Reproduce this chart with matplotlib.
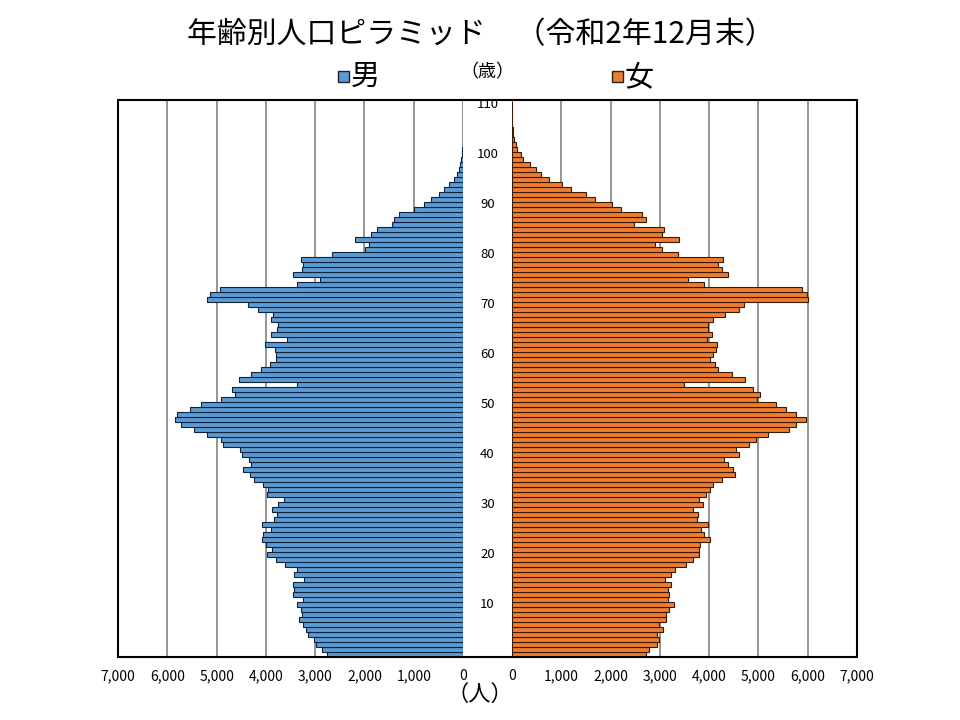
import numpy as np
import matplotlib
matplotlib.use("Agg")
import matplotlib.pyplot as plt
from matplotlib.patches import Rectangle
from matplotlib.transforms import blended_transform_factory

plt.rcParams['font.family'] = ['Noto Sans CJK JP', 'DejaVu Sans']

# 年齢 0〜110歳
ages = np.arange(0, 111)

# 男（人）
male = [2757, 2858, 2980, 3027, 3142, 3182, 3243, 3318, 3264, 3284,
        3365, 3243, 3446, 3432, 3453, 3216, 3432, 3365, 3615, 3791,
        3973, 3872, 4007, 4074, 4054, 3905, 4088, 3838, 3770, 3872,
        3750, 3635, 3973, 3953, 4068, 4243, 4324, 4466, 4311, 4345,
        4480, 4534, 4865, 4905, 5189, 5459, 5716, 5845, 5797, 5547,
        5311, 4919, 4628, 4696, 3378, 4547, 4297, 4095, 3919, 3804,
        3804, 3824, 4020, 3568, 3905, 3770, 3750, 3892, 3865, 4162,
        4358, 5189, 5135, 4939, 3378, 2905, 3446, 3264, 3243, 3277,
        2655, 1993, 1912, 2196, 1865, 1743, 1439, 1405, 1304, 986,
        784, 649, 493, 392, 291, 189, 122, 88, 54, 34,
        20, 12, 8, 5, 3, 2, 1, 1, 0, 0, 1]

# 女（人）
female = [2723, 2770, 2946, 2973, 2939, 3061, 2980, 3115, 3115, 3176,
          3284, 3162, 3176, 3162, 3216, 3108, 3216, 3311, 3534, 3669,
          3791, 3804, 3818, 4027, 3905, 3838, 3973, 3757, 3770, 3682,
          3872, 3804, 3939, 4027, 4088, 4257, 4534, 4480, 4392, 4297,
          4601, 4547, 4804, 4953, 5189, 5615, 5764, 5966, 5764, 5561,
          5358, 4966, 5041, 4885, 3486, 4730, 4466, 4176, 4128, 4020,
          4088, 4142, 4162, 3953, 4061, 3986, 3986, 4088, 4331, 4615,
          4716, 6014, 5980, 5885, 3905, 3568, 4378, 4257, 4176, 4277,
          3378, 3047, 2892, 3385, 3047, 3081, 2466, 2723, 2642, 2216,
          2034, 1676, 1507, 1189, 1020, 750, 581, 493, 358, 223,
          176, 108, 88, 45, 28, 20, 10, 5, 3, 1, 1]

age_ticks = np.arange(10, 111, 10)
x_ticks = np.arange(0, 7001, 1000)

W, H = 960, 720
fig = plt.figure(figsize=(9.6, 7.2), dpi=100)

def box(x0, y0, x1, y1):
    # ピクセル座標 -> figure座標
    return [x0 / W, 1 - y1 / H, (x1 - x0) / W, (y1 - y0) / H]

ax_m = fig.add_axes(box(118, 100, 463, 657))
ax_f = fig.add_axes(box(512, 100, 857, 657))

blue = '#5b9bd5'
orange = '#ed7d31'

ax_m.barh(ages, male, height=0.85, color=blue, edgecolor='#10213a', linewidth=0.8, zorder=3)
ax_f.barh(ages, female, height=0.85, color=orange, edgecolor='#3a1a05', linewidth=0.8, zorder=3)

for ax in (ax_m, ax_f):
    ax.set_ylim(-0.5, 110.9)
    ax.set_yticks([])
    ax.set_xticks(x_ticks)
    ax.set_xticklabels([f'{v:,}' for v in x_ticks], fontsize=10)
    ax.tick_params(axis='x', length=0, pad=9)
    ax.grid(axis='x', color='#8c8c8c', linewidth=1.3, zorder=0)
    for s in ax.spines.values():
        s.set_visible(False)

ax_m.set_xlim(7000, 0)
ax_f.set_xlim(0, 7000)
ax_f.axvline(0, color='#404040', linewidth=1.2, zorder=2)

# 外枠
fig.patches.append(Rectangle((118 / W, 1 - 657 / H), (857 - 118) / W, 557 / H,
                             transform=fig.transFigure, fill=False,
                             edgecolor='black', linewidth=1.5, zorder=5))

# 年齢ラベル（中央）
tr = blended_transform_factory(fig.transFigure, ax_m.transData)
for a in age_ticks:
    fig.text(487.5 / W, a, str(a), transform=tr, ha='center', va='center', fontsize=9.5)

fig.text(481 / W, 1 - 35 / H, '年齢別人口ピラミッド　（令和2年12月末）',
         ha='center', va='center', fontsize=21.5)

# 凡例
for cx, col, lab in [(343, blue, '男'), (617, orange, '女')]:
    fig.patches.append(Rectangle(((cx - 5.5) / W, 1 - 82 / H), 11 / W, 11 / H,
                                 transform=fig.transFigure, facecolor=col,
                                 edgecolor='#222222', linewidth=1))
    fig.text((cx + 8) / W, 1 - 77 / H, lab, ha='left', va='center', fontsize=21)

fig.text(487 / W, 1 - 72 / H, '（歳）', ha='center', va='center', fontsize=13)
fig.text(480 / W, 1 - 694 / H, '（人）', ha='center', va='center', fontsize=16)

fig.savefig('out.png', dpi=100, facecolor='white')
